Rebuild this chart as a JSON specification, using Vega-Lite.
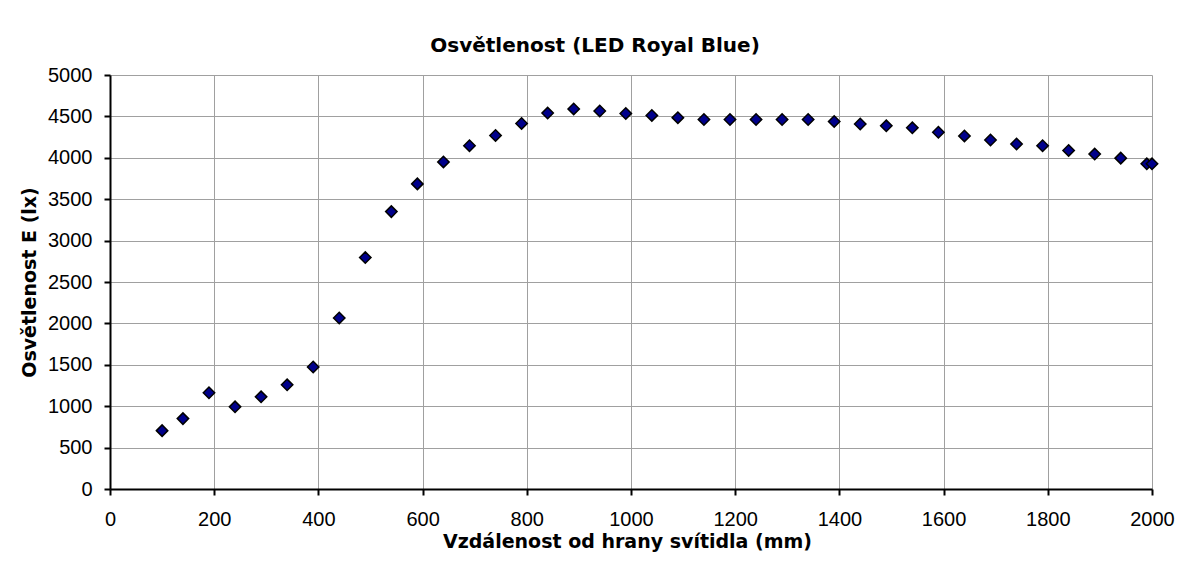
{
  "$schema": "https://vega.github.io/schema/vega-lite/v6.json",
  "autosize": "none",
  "width": 1042,
  "height": 414,
  "padding": {"left": 110, "top": 75, "right": 32, "bottom": 74},
  "background": "white",
  "title": {
    "text": "Osvětlenost (LED Royal Blue)",
    "font": "DejaVu Sans",
    "fontSize": 20,
    "fontWeight": "bold",
    "color": "black",
    "anchor": "middle",
    "frame": "group",
    "dx": -36,
    "dy": 31,
    "baseline": "alphabetic",
    "offset": 24
  },
  "data": {
    "values": [
      {"x": 100, "E": 705}, {"x": 140, "E": 850}, {"x": 190, "E": 1162}, {"x": 240, "E": 992},
      {"x": 290, "E": 1113}, {"x": 340, "E": 1258}, {"x": 390, "E": 1473}, {"x": 440, "E": 2065},
      {"x": 490, "E": 2795}, {"x": 540, "E": 3350}, {"x": 590, "E": 3685}, {"x": 640, "E": 3950},
      {"x": 690, "E": 4145}, {"x": 740, "E": 4270}, {"x": 790, "E": 4415}, {"x": 840, "E": 4540},
      {"x": 890, "E": 4590}, {"x": 940, "E": 4565}, {"x": 990, "E": 4535}, {"x": 1040, "E": 4512},
      {"x": 1090, "E": 4485}, {"x": 1140, "E": 4463}, {"x": 1190, "E": 4463}, {"x": 1240, "E": 4463},
      {"x": 1290, "E": 4463}, {"x": 1340, "E": 4463}, {"x": 1390, "E": 4438}, {"x": 1440, "E": 4408},
      {"x": 1490, "E": 4386}, {"x": 1540, "E": 4362}, {"x": 1590, "E": 4309}, {"x": 1640, "E": 4264},
      {"x": 1690, "E": 4215}, {"x": 1740, "E": 4167}, {"x": 1790, "E": 4146}, {"x": 1840, "E": 4089},
      {"x": 1890, "E": 4045}, {"x": 1940, "E": 3996}, {"x": 1990, "E": 3927}, {"x": 2000, "E": 3927}
    ]
  },
  "mark": {
    "type": "point",
    "shape": "diamond",
    "filled": true,
    "size": 130,
    "fill": "#00008B",
    "stroke": "black",
    "strokeWidth": 1.5,
    "opacity": 1
  },
  "encoding": {
    "x": {
      "field": "x",
      "type": "quantitative",
      "scale": {"domain": [0, 2000], "nice": false, "zero": true},
      "axis": {
        "values": [0, 200, 400, 600, 800, 1000, 1200, 1400, 1600, 1800, 2000],
        "format": "d",
        "title": "Vzdálenost od hrany svítidla (mm)",
        "titleX": 517,
        "titleY": 58,
        "titleBaseline": "alphabetic",
        "titleAlign": "center",
        "labelPadding": 14,
        "labelBaseline": "top"
      }
    },
    "y": {
      "field": "E",
      "type": "quantitative",
      "scale": {"domain": [0, 5000], "nice": false},
      "axis": {
        "values": [0, 500, 1000, 1500, 2000, 2500, 3000, 3500, 4000, 4500, 5000],
        "format": "d",
        "title": "Osvětlenost E (lx)",
        "titleX": -81,
        "titleY": 207,
        "titleAngle": -90,
        "titleAlign": "center",
        "titleBaseline": "middle",
        "labelPadding": 12
      }
    }
  },
  "config": {
    "view": {"stroke": null},
    "axis": {
      "labelFont": "Liberation Sans",
      "labelFontSize": 20,
      "labelColor": "black",
      "titleFont": "DejaVu Sans",
      "titleFontSize": 19,
      "titleFontWeight": "bold",
      "titleColor": "black",
      "domainColor": "black",
      "domainWidth": 2,
      "tickColor": "black",
      "tickWidth": 2,
      "tickSize": 6,
      "grid": true,
      "gridColor": "#a0a0a0",
      "gridWidth": 1,
      "labelOverlap": false,
      "labelFlush": false
    }
  }
}
